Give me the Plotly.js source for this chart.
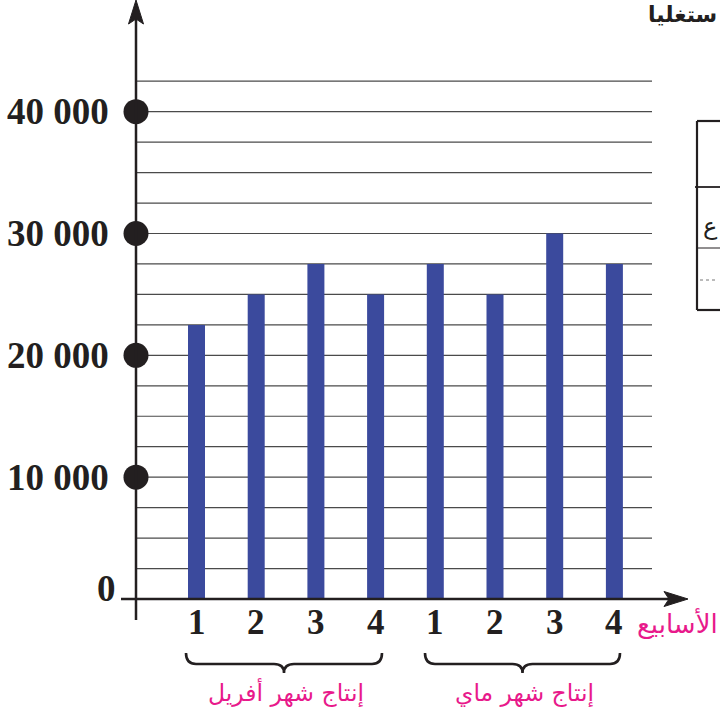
<!DOCTYPE html>
<html>
<head>
<meta charset="utf-8">
<script src="https://cdn.plot.ly/plotly-3.0.1.min.js"></script>
<style>html,body{margin:0;padding:0;background:#fff;}#chart{width:720px;height:715px;}</style>
</head>
<body>
<div id="chart"></div>
<script>
// ---- data ----
var weekLabels = ['1', '2', '3', '4', '1', '2', '3', '4'];
var aprilValues = [22500, 25000, 27500, 25000];
var mayValues = [27500, 25000, 30000, 27500];
var yTickValues = [0, 10000, 20000, 30000, 40000];
var yTickLabels = ['0', '10 000', '20 000', '30 000', '40 000'];
var gridValues = [2500, 5000, 7500, 10000, 12500, 15000, 17500, 20000, 22500, 25000, 27500, 30000, 32500, 35000, 37500, 40000, 42500];
var monthLabels = ['إنتاج شهر أفريل', 'إنتاج شهر ماي'];
var weeksTitle = 'الأسابيع';

// ---- pixel <-> data helpers (plot area = full page) ----
var W = 720, H = 715;
var x0px = 196.5, dxpx = 59.7;          // category 0 centre, spacing
var y0px = 599, pyPer = 0.012183;       // value 0 pixel, px per unit
var xr = [(0 - x0px) / dxpx, (W - x0px) / dxpx];
var yr = [(y0px - H) / pyPer, (y0px - 0) / pyPer];
function X(px) { return (px - x0px) / dxpx; }
function Y(py) { return (y0px - py) / pyPer; }

var barColor = '#3b4a9d';
var ink = '#231f20';
var pink = '#e8198b';
var serif = 'Liberation Serif, Times New Roman, serif';
var arabic = 'DejaVu Sans, sans-serif';

var aprX = [0, 1, 2, 3];
var mayX = [4, 5, 6, 7];
var barW = 17 / dxpx;

var traces = [
  {type: 'bar', x: aprX, y: aprilValues, width: barW, marker: {color: barColor}, hoverinfo: 'skip'},
  {type: 'bar', x: mayX, y: mayValues, width: barW, marker: {color: barColor}, hoverinfo: 'skip'},
  {type: 'scatter', mode: 'markers', x: yTickValues.slice(1).map(function(){return X(136);}),
   y: yTickValues.slice(1), marker: {size: 25, color: ink}, hoverinfo: 'skip', cliponaxis: false}
];

var shapes = [];
// grid lines
gridValues.forEach(function(v) {
  shapes.push({type: 'line', xref: 'x', yref: 'y', x0: X(136), x1: X(652), y0: v, y1: v,
    line: {color: '#4a4a4a', width: 1.2}, layer: 'below'});
});
// y axis
shapes.push({type: 'line', xref: 'x', yref: 'y', x0: X(136), x1: X(136), y0: Y(620), y1: Y(18), line: {color: ink, width: 2.5}});
shapes.push({type: 'path', xref: 'x', yref: 'y', fillcolor: ink, line: {color: ink, width: 1},
  path: 'M' + X(136) + ',' + Y(0) + ' L' + X(128.5) + ',' + Y(24) + ' L' + X(136) + ',' + Y(19) + ' L' + X(143.5) + ',' + Y(24) + ' Z'});
// x axis
shapes.push({type: 'line', xref: 'x', yref: 'y', x0: X(121), x1: X(672), y0: 0, y1: 0, line: {color: ink, width: 2.5}});
shapes.push({type: 'path', xref: 'x', yref: 'y', fillcolor: ink, line: {color: ink, width: 1},
  path: 'M' + X(688) + ',' + Y(599) + ' L' + X(664) + ',' + Y(591.5) + ' L' + X(669) + ',' + Y(599) + ' L' + X(664) + ',' + Y(606.5) + ' Z'});
// braces
function brace(l, r, top, mid, tip) {
  var c = (l + r) / 2;
  return 'M' + X(l) + ',' + Y(top) +
    ' Q' + X(l) + ',' + Y(mid) + ' ' + X(l + 10) + ',' + Y(mid) +
    ' L' + X(c - 10) + ',' + Y(mid) +
    ' Q' + X(c) + ',' + Y(mid) + ' ' + X(c) + ',' + Y(tip) +
    ' Q' + X(c) + ',' + Y(mid) + ' ' + X(c + 10) + ',' + Y(mid) +
    ' L' + X(r - 10) + ',' + Y(mid) +
    ' Q' + X(r) + ',' + Y(mid) + ' ' + X(r) + ',' + Y(top);
}
shapes.push({type: 'path', xref: 'x', yref: 'y', path: brace(186, 382, 653, 664, 673), line: {color: ink, width: 2.6}});
shapes.push({type: 'path', xref: 'x', yref: 'y', path: brace(425, 620, 653, 664, 673), line: {color: ink, width: 2.6}});
// cropped table fragment at right
shapes.push({type: 'line', xref: 'x', yref: 'y', x0: X(697), x1: X(722), y0: Y(121), y1: Y(121), line: {color: ink, width: 2.2}});
shapes.push({type: 'line', xref: 'x', yref: 'y', x0: X(697), x1: X(697), y0: Y(121), y1: Y(310), line: {color: ink, width: 2.2}});
shapes.push({type: 'line', xref: 'x', yref: 'y', x0: X(697), x1: X(722), y0: Y(310), y1: Y(310), line: {color: ink, width: 2.2}});
shapes.push({type: 'line', xref: 'x', yref: 'y', x0: X(695), x1: X(722), y0: Y(187), y1: Y(187), line: {color: ink, width: 1.8}});
shapes.push({type: 'line', xref: 'x', yref: 'y', x0: X(697), x1: X(722), y0: Y(248), y1: Y(248), line: {color: ink, width: 1}});
shapes.push({type: 'line', xref: 'x', yref: 'y', x0: X(700), x1: X(718), y0: Y(280), y1: Y(280), line: {color: '#777', width: 1, dash: 'dot'}});

var annotations = [];
// y tick labels
yTickValues.forEach(function(v, i) {
  annotations.push({xref: 'x', yref: 'y', x: i === 0 ? X(118) : X(111), y: v, yshift: i === 0 ? 11 : 0,
    xanchor: 'right', yanchor: 'middle', showarrow: false, text: yTickLabels[i],
    font: {family: serif, size: 37, color: ink, weight: 'bold'}});
});
// week labels
weekLabels.forEach(function(t, i) {
  annotations.push({xref: 'x', yref: 'y', x: i, y: Y(622), xanchor: 'center', yanchor: 'middle',
    showarrow: false, text: t, font: {family: serif, size: 35, color: ink, weight: 'bold'}});
});
// axis title
annotations.push({xref: 'x', yref: 'y', x: X(677), y: Y(623), xanchor: 'center', yanchor: 'middle',
  showarrow: false, text: weeksTitle, font: {family: arabic, size: 26, color: pink}});
// month labels
annotations.push({xref: 'x', yref: 'y', x: 1.5, y: Y(693), xanchor: 'center', yanchor: 'middle',
  showarrow: false, text: monthLabels[0], font: {family: arabic, size: 23.5, color: pink}});
annotations.push({xref: 'x', yref: 'y', x: 5.5, y: Y(693), xanchor: 'center', yanchor: 'middle',
  showarrow: false, text: monthLabels[1], font: {family: arabic, size: 23.5, color: pink}});
// cropped fragments
annotations.push({xref: 'x', yref: 'y', x: X(701), y: Y(226), xanchor: 'left', yanchor: 'middle',
  showarrow: false, text: 'ع', font: {family: arabic, size: 24, color: ink}});
annotations.push({xref: 'paper', yref: 'paper', x: 0.999, y: 1, xanchor: 'right', yanchor: 'top',
  showarrow: false, text: 'ستغليا', font: {family: arabic, size: 22, color: ink, weight: 'bold'}});

var layout = {
  width: W, height: H,
  margin: {l: 0, r: 0, t: 0, b: 0, pad: 0},
  paper_bgcolor: '#fff', plot_bgcolor: '#fff',
  showlegend: false,
  barmode: 'overlay',
  xaxis: {range: xr, visible: false, fixedrange: true},
  yaxis: {range: yr, visible: false, fixedrange: true},
  shapes: shapes,
  annotations: annotations
};

Plotly.newPlot('chart', traces, layout, {staticPlot: true, displayModeBar: false});
</script>
</body>
</html>
